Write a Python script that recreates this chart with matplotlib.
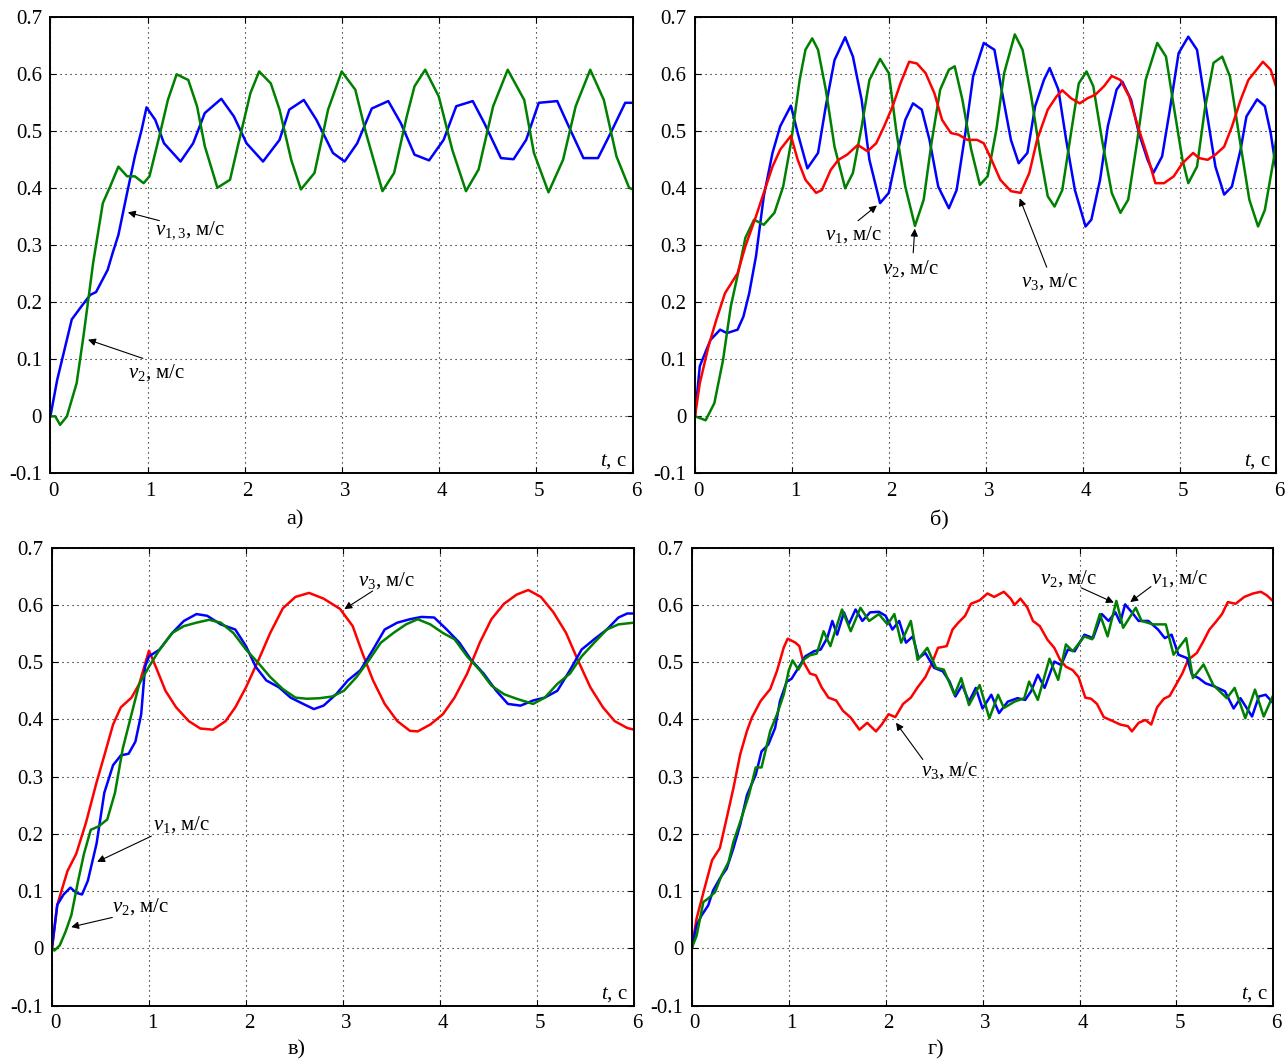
import matplotlib
matplotlib.use("Agg")
import matplotlib.pyplot as plt
import matplotlib.transforms as mtransforms

plt.rcParams['font.family'] = ['Liberation Serif', 'DejaVu Serif']
plt.rcParams['mathtext.fontset'] = 'custom'
plt.rcParams['mathtext.rm'] = 'Liberation Serif'
plt.rcParams['mathtext.it'] = 'Liberation Serif:italic'

BLUE = '#0000ff'
GREEN = '#008000'
RED = '#ff0000'

x_ticks = [0, 1, 2, 3, 4, 5, 6]
y_ticks = [-0.1, 0, 0.1, 0.2, 0.3, 0.4, 0.5, 0.6, 0.7]
y_tick_labels = ['-0.1', '0', '0.1', '0.2', '0.3', '0.4', '0.5', '0.6', '0.7']

# ---- panel a) : digitised (t, v) points
a_v13 = [(0, 0), (0.07, 0.064), (0.22, 0.17), (0.32, 0.193), (0.41, 0.213), (0.47, 0.218),
         (0.59, 0.257), (0.64, 0.286), (0.70, 0.318), (0.79, 0.392), (0.87, 0.456), (0.94, 0.503),
         (0.99, 0.542), (1.08, 0.520), (1.17, 0.479), (1.34, 0.447), (1.47, 0.479), (1.59, 0.532),
         (1.76, 0.557), (1.89, 0.526), (2.02, 0.479), (2.19, 0.447), (2.36, 0.485), (2.46, 0.538),
         (2.61, 0.555), (2.74, 0.520), (2.91, 0.462), (3.03, 0.447), (3.16, 0.479), (3.31, 0.540),
         (3.48, 0.553), (3.61, 0.514), (3.75, 0.459), (3.90, 0.449), (4.05, 0.485), (4.18, 0.544),
         (4.35, 0.553), (4.47, 0.514), (4.64, 0.453), (4.77, 0.451), (4.90, 0.485), (5.03, 0.550),
         (5.22, 0.553), (5.34, 0.508), (5.49, 0.453), (5.64, 0.453), (5.77, 0.497), (5.92, 0.550),
         (6.0, 0.55)]
a_v2 = [(0, 0), (0.05, 0.0), (0.1, -0.015), (0.17, 0.0), (0.27, 0.058), (0.34, 0.14), (0.44, 0.269),
        (0.54, 0.374), (0.62, 0.405), (0.70, 0.438), (0.79, 0.421), (0.87, 0.421), (0.96, 0.409),
        (1.02, 0.421), (1.13, 0.497), (1.21, 0.555), (1.30, 0.6), (1.42, 0.59), (1.51, 0.544),
        (1.59, 0.474), (1.72, 0.401), (1.85, 0.415), (1.93, 0.474), (2.06, 0.567), (2.15, 0.605),
        (2.27, 0.584), (2.36, 0.538), (2.48, 0.450), (2.58, 0.398), (2.72, 0.427), (2.86, 0.538),
        (3.0, 0.605), (3.14, 0.573), (3.25, 0.497), (3.42, 0.395), (3.54, 0.427), (3.67, 0.526),
        (3.75, 0.579), (3.86, 0.608), (4.0, 0.561), (4.14, 0.467), (4.28, 0.395), (4.41, 0.433),
        (4.56, 0.544), (4.71, 0.608), (4.88, 0.555), (4.98, 0.462), (5.13, 0.393), (5.28, 0.45),
        (5.41, 0.544), (5.56, 0.608), (5.70, 0.555), (5.83, 0.456), (5.96, 0.401), (6.0, 0.398)]

# ---- panel б)
b_v1 = [(0, 0), (0.05, 0.088), (0.16, 0.134), (0.26, 0.152), (0.33, 0.146), (0.44, 0.152),
        (0.50, 0.175), (0.56, 0.216), (0.63, 0.281), (0.71, 0.386), (0.80, 0.462), (0.88, 0.509),
        (0.99, 0.545), (1.06, 0.497), (1.16, 0.435), (1.27, 0.462), (1.35, 0.544), (1.44, 0.625),
        (1.55, 0.665), (1.63, 0.631), (1.72, 0.555), (1.80, 0.450), (1.91, 0.374), (2.0, 0.392),
        (2.08, 0.456), (2.17, 0.520), (2.25, 0.549), (2.34, 0.538), (2.42, 0.485), (2.51, 0.403),
        (2.62, 0.365), (2.70, 0.397), (2.79, 0.497), (2.87, 0.596), (2.98, 0.655), (3.09, 0.643),
        (3.17, 0.567), (3.26, 0.485), (3.34, 0.444), (3.43, 0.462), (3.51, 0.544), (3.60, 0.590),
        (3.66, 0.611), (3.75, 0.573), (3.83, 0.485), (3.92, 0.397), (4.03, 0.333), (4.09, 0.345),
        (4.18, 0.415), (4.26, 0.509), (4.35, 0.573), (4.41, 0.587), (4.50, 0.555), (4.58, 0.497),
        (4.67, 0.450), (4.73, 0.427), (4.82, 0.456), (4.90, 0.538), (4.99, 0.637), (5.09, 0.666),
        (5.18, 0.643), (5.26, 0.555), (5.37, 0.438), (5.46, 0.389), (5.54, 0.403), (5.63, 0.468),
        (5.69, 0.526), (5.80, 0.556), (5.88, 0.544), (5.94, 0.497), (6.0, 0.43)]
b_v2 = [(0, 0), (0.05, -0.003), (0.11, -0.007), (0.20, 0.023), (0.29, 0.099), (0.37, 0.193),
        (0.46, 0.263), (0.52, 0.313), (0.61, 0.345), (0.71, 0.336), (0.82, 0.357), (0.91, 0.403),
        (0.99, 0.479), (1.08, 0.590), (1.14, 0.643), (1.21, 0.663), (1.27, 0.643), (1.35, 0.573),
        (1.44, 0.473), (1.55, 0.400), (1.63, 0.427), (1.72, 0.508), (1.80, 0.590), (1.91, 0.627),
        (2.0, 0.602), (2.08, 0.497), (2.17, 0.403), (2.27, 0.334), (2.36, 0.380), (2.44, 0.479),
        (2.53, 0.573), (2.62, 0.608), (2.68, 0.614), (2.76, 0.555), (2.85, 0.468), (2.94, 0.406),
        (3.02, 0.421), (3.11, 0.503), (3.19, 0.602), (3.30, 0.670), (3.38, 0.643), (3.47, 0.561),
        (3.56, 0.462), (3.64, 0.386), (3.71, 0.368), (3.79, 0.397), (3.88, 0.497), (3.96, 0.584),
        (4.04, 0.605), (4.11, 0.579), (4.20, 0.485), (4.30, 0.392), (4.39, 0.357), (4.47, 0.380),
        (4.56, 0.479), (4.65, 0.590), (4.77, 0.655), (4.86, 0.631), (4.94, 0.544), (5.03, 0.450),
        (5.09, 0.409), (5.18, 0.438), (5.26, 0.538), (5.35, 0.620), (5.44, 0.631), (5.52, 0.596),
        (5.61, 0.497), (5.72, 0.380), (5.81, 0.333), (5.88, 0.362), (5.97, 0.450), (6.0, 0.491)]
b_v3 = [(0, 0), (0.05, 0.058), (0.14, 0.123), (0.22, 0.169), (0.31, 0.216), (0.44, 0.251),
        (0.52, 0.298), (0.63, 0.351), (0.71, 0.392), (0.80, 0.438), (0.88, 0.468), (0.99, 0.492),
        (1.06, 0.45), (1.14, 0.415), (1.25, 0.392), (1.31, 0.397), (1.40, 0.432), (1.48, 0.450),
        (1.57, 0.459), (1.68, 0.476), (1.78, 0.465), (1.87, 0.479), (1.95, 0.508), (2.04, 0.544),
        (2.12, 0.584), (2.21, 0.622), (2.29, 0.619), (2.38, 0.602), (2.47, 0.567), (2.55, 0.520),
        (2.64, 0.497), (2.72, 0.494), (2.81, 0.485), (2.91, 0.485), (2.98, 0.479), (3.06, 0.450),
        (3.15, 0.415), (3.26, 0.395), (3.36, 0.392), (3.45, 0.427), (3.53, 0.485), (3.64, 0.538),
        (3.73, 0.561), (3.79, 0.572), (3.88, 0.558), (3.97, 0.549), (4.05, 0.558), (4.13, 0.564),
        (4.22, 0.579), (4.30, 0.597), (4.39, 0.590), (4.48, 0.561), (4.56, 0.514), (4.67, 0.456),
        (4.75, 0.409), (4.84, 0.409), (4.94, 0.421), (5.03, 0.444), (5.14, 0.462), (5.20, 0.453),
        (5.29, 0.450), (5.37, 0.459), (5.46, 0.473), (5.54, 0.508), (5.63, 0.555), (5.71, 0.590),
        (5.86, 0.622), (5.94, 0.608), (6.0, 0.576)]

# ---- panel в)
c_v1 = [(0, 0), (0.055, 0.076), (0.12, 0.094), (0.19, 0.106), (0.25, 0.097), (0.31, 0.094),
        (0.37, 0.118), (0.46, 0.183), (0.54, 0.272), (0.63, 0.320), (0.71, 0.337), (0.79, 0.340),
        (0.86, 0.361), (0.92, 0.409), (0.96, 0.492), (1.0, 0.510), (1.11, 0.522), (1.24, 0.551),
        (1.36, 0.572), (1.49, 0.584), (1.60, 0.581), (1.74, 0.566), (1.89, 0.557), (2.0, 0.528),
        (2.10, 0.492), (2.21, 0.468), (2.34, 0.456), (2.46, 0.438), (2.59, 0.427), (2.70, 0.418),
        (2.80, 0.424), (2.93, 0.444), (3.05, 0.468), (3.18, 0.486), (3.31, 0.522), (3.43, 0.557),
        (3.56, 0.569), (3.69, 0.575), (3.81, 0.579), (3.94, 0.578), (4.07, 0.557), (4.20, 0.534),
        (4.32, 0.504), (4.45, 0.480), (4.58, 0.450), (4.70, 0.427), (4.83, 0.424), (4.96, 0.433),
        (5.08, 0.438), (5.21, 0.450), (5.34, 0.486), (5.46, 0.522), (5.59, 0.540), (5.72, 0.557),
        (5.84, 0.578), (5.93, 0.585), (6.0, 0.585)]
c_v2 = [(0, 0), (0.025, -0.004), (0.08, 0.005), (0.14, 0.029), (0.20, 0.058), (0.27, 0.118),
        (0.33, 0.165), (0.40, 0.207), (0.48, 0.213), (0.57, 0.225), (0.65, 0.272), (0.73, 0.349),
        (0.82, 0.409), (0.90, 0.462), (1.0, 0.492), (1.11, 0.522), (1.24, 0.551), (1.36, 0.563),
        (1.49, 0.569), (1.62, 0.574), (1.74, 0.569), (1.87, 0.551), (2.0, 0.522), (2.13, 0.498),
        (2.25, 0.474), (2.38, 0.453), (2.51, 0.438), (2.63, 0.436), (2.76, 0.437), (2.89, 0.440),
        (3.01, 0.450), (3.14, 0.474), (3.27, 0.504), (3.39, 0.534), (3.52, 0.551), (3.65, 0.566),
        (3.77, 0.575), (3.90, 0.566), (4.03, 0.551), (4.15, 0.540), (4.28, 0.510), (4.41, 0.486),
        (4.53, 0.459), (4.66, 0.444), (4.79, 0.436), (4.96, 0.427), (5.08, 0.438), (5.21, 0.462),
        (5.34, 0.480), (5.46, 0.510), (5.59, 0.534), (5.72, 0.557), (5.84, 0.566), (6.0, 0.569)]
c_v3 = [(0, 0), (0.055, 0.076), (0.16, 0.135), (0.25, 0.165), (0.35, 0.219), (0.46, 0.290),
        (0.54, 0.337), (0.63, 0.391), (0.71, 0.421), (0.82, 0.438), (0.90, 0.462), (1.0, 0.520),
        (1.07, 0.492), (1.17, 0.450), (1.28, 0.421), (1.41, 0.397), (1.53, 0.384), (1.66, 0.382),
        (1.79, 0.397), (1.89, 0.421), (2.0, 0.456), (2.13, 0.504), (2.25, 0.551), (2.38, 0.594),
        (2.51, 0.614), (2.65, 0.621), (2.80, 0.611), (2.97, 0.593), (3.10, 0.563), (3.20, 0.516),
        (3.31, 0.468), (3.43, 0.427), (3.56, 0.397), (3.69, 0.380), (3.77, 0.379), (3.90, 0.391),
        (4.03, 0.409), (4.15, 0.438), (4.28, 0.480), (4.41, 0.534), (4.53, 0.575), (4.66, 0.602),
        (4.79, 0.618), (4.91, 0.626), (5.04, 0.614), (5.17, 0.587), (5.30, 0.551), (5.42, 0.504),
        (5.55, 0.456), (5.68, 0.421), (5.80, 0.397), (5.93, 0.385), (6.0, 0.382)]

# ---- panel г)
d_v1 = [(0, 0), (0.05, 0.04), (0.10, 0.057), (0.17, 0.075), (0.22, 0.101), (0.29, 0.122),
        (0.36, 0.139), (0.43, 0.175), (0.50, 0.216), (0.57, 0.268), (0.66, 0.303), (0.72, 0.344),
        (0.79, 0.356), (0.86, 0.385), (0.91, 0.432), (0.98, 0.466), (1.03, 0.471), (1.10, 0.490),
        (1.17, 0.51), (1.26, 0.519), (1.33, 0.522), (1.40, 0.543), (1.45, 0.572), (1.50, 0.548),
        (1.57, 0.587), (1.62, 0.566), (1.69, 0.592), (1.76, 0.572), (1.84, 0.587), (1.93, 0.588),
        (2.00, 0.581), (2.07, 0.557), (2.14, 0.572), (2.21, 0.534), (2.28, 0.545), (2.34, 0.507),
        (2.41, 0.516), (2.50, 0.49), (2.59, 0.484), (2.66, 0.466), (2.72, 0.44), (2.79, 0.46),
        (2.86, 0.431), (2.93, 0.455), (3.0, 0.419), (3.09, 0.443), (3.17, 0.411), (3.26, 0.431),
        (3.36, 0.437), (3.44, 0.434), (3.50, 0.449), (3.57, 0.478), (3.64, 0.455), (3.74, 0.501),
        (3.81, 0.495), (3.88, 0.522), (3.95, 0.519), (4.05, 0.548), (4.14, 0.542), (4.23, 0.584),
        (4.30, 0.572), (4.37, 0.587), (4.42, 0.569), (4.47, 0.601), (4.54, 0.587), (4.61, 0.572),
        (4.71, 0.572), (4.81, 0.557), (4.88, 0.542), (4.95, 0.548), (5.02, 0.513), (5.11, 0.507),
        (5.16, 0.478), (5.23, 0.472), (5.30, 0.463), (5.40, 0.457), (5.50, 0.449), (5.59, 0.419),
        (5.66, 0.437), (5.78, 0.405), (5.85, 0.44), (5.92, 0.443), (6.0, 0.428)]
d_v2 = [(0, 0), (0.05, 0.022), (0.12, 0.081), (0.17, 0.087), (0.24, 0.098), (0.31, 0.128),
        (0.38, 0.151), (0.43, 0.186), (0.50, 0.221), (0.59, 0.268), (0.66, 0.316), (0.72, 0.316),
        (0.81, 0.380), (0.88, 0.409), (0.95, 0.444), (1.0, 0.485), (1.04, 0.503), (1.10, 0.487),
        (1.16, 0.505), (1.22, 0.512), (1.29, 0.515), (1.36, 0.554), (1.43, 0.528), (1.55, 0.592),
        (1.64, 0.554), (1.74, 0.595), (1.83, 0.572), (1.93, 0.584), (2.02, 0.566), (2.09, 0.584),
        (2.16, 0.534), (2.26, 0.572), (2.33, 0.504), (2.43, 0.525), (2.52, 0.49), (2.60, 0.487),
        (2.71, 0.443), (2.78, 0.472), (2.86, 0.425), (2.97, 0.46), (3.07, 0.402), (3.16, 0.443),
        (3.22, 0.42), (3.33, 0.431), (3.43, 0.437), (3.48, 0.466), (3.57, 0.434), (3.69, 0.506),
        (3.78, 0.469), (3.86, 0.531), (3.93, 0.519), (4.05, 0.545), (4.13, 0.54), (4.21, 0.584),
        (4.29, 0.545), (4.38, 0.607), (4.45, 0.56), (4.58, 0.595), (4.64, 0.572), (4.76, 0.566),
        (4.89, 0.566), (4.97, 0.513), (5.10, 0.542), (5.17, 0.472), (5.28, 0.496), (5.38, 0.46),
        (5.52, 0.437), (5.60, 0.455), (5.71, 0.402), (5.81, 0.452), (5.90, 0.405), (6.0, 0.443)]
d_v3 = [(0, 0), (0.05, 0.052), (0.14, 0.11), (0.21, 0.154), (0.29, 0.175), (0.36, 0.227),
        (0.43, 0.28), (0.50, 0.339), (0.57, 0.38), (0.62, 0.403), (0.71, 0.432), (0.81, 0.453),
        (0.88, 0.485), (0.95, 0.526), (0.99, 0.541), (1.07, 0.534), (1.11, 0.528), (1.15, 0.501),
        (1.22, 0.480), (1.28, 0.477), (1.34, 0.456), (1.41, 0.438), (1.49, 0.433), (1.56, 0.415),
        (1.64, 0.403), (1.73, 0.382), (1.81, 0.394), (1.90, 0.379), (1.96, 0.391), (2.03, 0.409),
        (2.10, 0.404), (2.18, 0.427), (2.26, 0.438), (2.33, 0.456), (2.41, 0.474), (2.48, 0.499),
        (2.54, 0.525), (2.63, 0.528), (2.69, 0.557), (2.75, 0.569), (2.82, 0.581), (2.88, 0.602),
        (2.97, 0.608), (3.05, 0.620), (3.12, 0.614), (3.22, 0.623), (3.29, 0.611), (3.33, 0.600),
        (3.39, 0.611), (3.46, 0.596), (3.52, 0.572), (3.59, 0.563), (3.67, 0.539), (3.74, 0.525),
        (3.80, 0.504), (3.86, 0.492), (3.93, 0.486), (3.99, 0.474), (4.06, 0.438), (4.12, 0.436),
        (4.18, 0.427), (4.25, 0.404), (4.33, 0.398), (4.42, 0.391), (4.50, 0.388), (4.54, 0.379),
        (4.61, 0.394), (4.68, 0.399), (4.74, 0.391), (4.80, 0.421), (4.87, 0.436), (4.93, 0.441),
        (5.00, 0.462), (5.06, 0.480), (5.12, 0.504), (5.21, 0.516), (5.27, 0.534), (5.34, 0.557),
        (5.40, 0.569), (5.47, 0.584), (5.53, 0.605), (5.61, 0.602), (5.70, 0.614), (5.79, 0.620),
        (5.87, 0.623), (5.93, 0.617), (6.0, 0.606)]

# annotations: (label, text pos, arrow tip, arrow tail)
a_notes = [(r'$v_{1,3}$, м/с', (1.08, 0.327), (0.77, 0.359), (1.15, 0.342)),
           (r'$v_2$, м/с', (0.80, 0.076), (0.36, 0.136), (0.98, 0.10))]
b_notes = [(r'$v_1$, м/с', (1.34, 0.318), (1.90, 0.373), (1.66, 0.34)),
           (r'$v_2$, м/с', (1.93, 0.26), (2.27, 0.334), (2.25, 0.282)),
           (r'$v_3$, м/с', (3.36, 0.237), (3.34, 0.387), (3.64, 0.257))]
c_notes = [(r'$v_3$, м/с', (3.15, 0.643), (2.99, 0.59), (3.33, 0.627)),
           (r'$v_1$, м/с', (1.04, 0.217), (0.44, 0.149), (1.05, 0.198)),
           (r'$v_2$, м/с', (0.62, 0.073), (0.17, 0.036), (0.65, 0.055))]
d_notes = [(r'$v_2$, м/с', (3.59, 0.646), (4.38, 0.602), (3.99, 0.632)),
           (r'$v_1$, м/с', (4.74, 0.646), (4.50, 0.602), (4.76, 0.635)),
           (r'$v_3$, м/с', (2.37, 0.311), (2.09, 0.398), (2.40, 0.326))]

panels = [
    ('а)', [0.0392, 0.5539, 0.4530, 0.4298], [(a_v13, BLUE), (a_v2, GREEN)], a_notes, -0.103),
    ('б)', [0.5404, 0.5539, 0.4522, 0.4298], [(b_v1, BLUE), (b_v2, GREEN), (b_v3, RED)], b_notes, -0.103),
    ('в)', [0.0404, 0.0523, 0.4526, 0.4315], [(c_v3, RED), (c_v1, BLUE), (c_v2, GREEN)], c_notes, -0.097),
    ('г)', [0.5379, 0.0523, 0.4523, 0.4315], [(d_v3, RED), (d_v1, BLUE), (d_v2, GREEN)], d_notes, -0.097),
]

fig = plt.figure(figsize=(12.86, 10.61), dpi=100)
shift = mtransforms.ScaledTranslation(3 / 100, 0, fig.dpi_scale_trans)

for name, rect, series, notes, name_y in panels:
    ax = fig.add_axes(rect)
    for pts, col in series:
        t, v = zip(*pts)
        ax.plot(t, v, color=col, lw=1.8)
    ax.set_xlim(0, 6)
    ax.set_ylim(-0.1, 0.7)
    ax.set_xticks(x_ticks)
    ax.set_yticks(y_ticks)
    ax.set_yticklabels(y_tick_labels)
    ax.grid(True, color='k', linestyle=(0, (1, 3.5)), linewidth=0.8)
    ax.tick_params(direction='in', top=True, right=True, length=4, labelsize=15, pad=6)
    for lbl in ax.get_xticklabels():
        lbl.set_transform(lbl.get_transform() + shift)
    for sp in ax.spines.values():
        sp.set_linewidth(1.4)
    ax.text(5.94, -0.08, r'$t$, с', ha='right', va='center', fontsize=15)
    for label, tpos, tip, tail in notes:
        ax.annotate('', xy=tip, xytext=tail,
                    arrowprops=dict(arrowstyle='-|>', color='k', lw=0.8, mutation_scale=11))
        ax.text(tpos[0], tpos[1], label, ha='left', va='center', fontsize=15)
    ax.text(0.42, name_y, name, transform=ax.transAxes, ha='center', va='center', fontsize=16)

fig.savefig('out.png', dpi=100)
